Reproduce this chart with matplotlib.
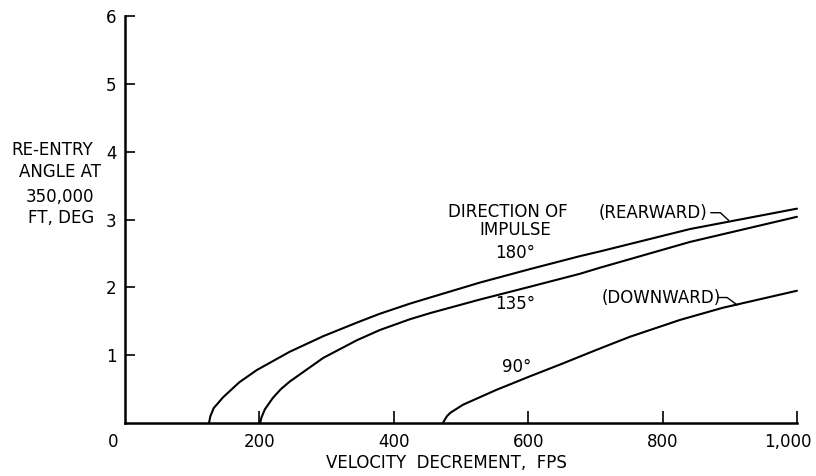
import matplotlib
matplotlib.use("Agg")
import matplotlib.pyplot as plt
import matplotlib.transforms as mtransforms

plt.rcParams["font.family"] = ["DejaVu Sans"]
plt.rcParams["font.size"] = 12

# Re-entry angle (deg) vs velocity decrement (fps), one curve per impulse direction
V_180 = [125, 127, 132, 146, 170, 196, 245, 295, 345, 379, 424, 454, 528, 603, 677, 707, 841, 1000]
A_180 = [0.0, 0.10, 0.22, 0.38, 0.60, 0.78, 1.05, 1.28, 1.48, 1.61, 1.76, 1.85, 2.07, 2.27, 2.46, 2.53, 2.86, 3.16]

V_135 = [201, 203, 208, 220, 232, 245, 295, 345, 379, 424, 454, 528, 603, 677, 707, 841, 1000]
A_135 = [0.0, 0.08, 0.20, 0.37, 0.50, 0.61, 0.96, 1.22, 1.37, 1.53, 1.62, 1.82, 2.01, 2.20, 2.29, 2.67, 3.04]

V_90 = [473, 476, 479, 484, 503, 553, 603, 652, 702, 751, 826, 890, 1000]
A_90 = [0.0, 0.05, 0.10, 0.15, 0.27, 0.49, 0.69, 0.88, 1.08, 1.27, 1.52, 1.70, 1.95]

XTICKS = [0, 200, 400, 600, 800, 1000]
XTICK_LABELS = ["0", "200", "400", "600", "800", "1,000"]
YTICKS = [1, 2, 3, 4, 5, 6]
YTICK_LABELS = ["1", "2", "3", "4", "5", "6"]

fig = plt.figure(figsize=(8.16, 4.76), dpi=100)
ax = fig.add_axes([0.1532, 0.1113, 0.8235, 0.8551])

for v, a in ((V_180, A_180), (V_135, A_135), (V_90, A_90)):
    ax.plot(v, a, color="black", linewidth=1.5, solid_joinstyle="round",
            solid_capstyle="round", clip_on=False)

ax.set_xlim(0, 1000)
ax.set_ylim(0, 6)
ax.spines[["top", "right"]].set_visible(False)
ax.spines[["left", "bottom"]].set_linewidth(1.8)

ax.set_xticks(XTICKS, XTICK_LABELS)
ax.set_yticks(YTICKS, YTICK_LABELS)
ax.tick_params(axis="x", direction="in", length=9, width=1.2, pad=7)
ax.tick_params(axis="y", direction="in", length=7, width=1.2, pad=6)
ax.xaxis.get_major_ticks()[0].tick1line.set_visible(False)

# nudge the end labels like the hand lettering
xlabels = ax.get_xticklabels()
xlabels[0].set_transform(xlabels[0].get_transform()
                         + mtransforms.ScaledTranslation(-0.12, 0, fig.dpi_scale_trans))
xlabels[-1].set_transform(xlabels[-1].get_transform()
                          + mtransforms.ScaledTranslation(-0.09, 0, fig.dpi_scale_trans))

ax.text(479, -0.59, "VELOCITY  DECREMENT,  FPS", ha="center", va="center",
        clip_on=False)

for text, x, y in (("RE-ENTRY", -109, 4.03), ("ANGLE AT", -97, 3.70),
                   ("350,000", -97, 3.33), ("FT, DEG", -95, 3.02)):
    ax.text(x, y, text, ha="center", va="center", clip_on=False)

ax.text(570, 3.11, "DIRECTION OF", ha="center", va="center")
ax.text(580, 2.85, "IMPULSE", ha="center", va="center")
ax.text(580, 2.51, "180°", ha="center", va="center")
ax.text(580, 1.76, "135°", ha="center", va="center")
ax.text(583, 0.83, "90°", ha="center", va="center")

ax.text(705, 3.10, "(REARWARD)", ha="left", va="center")
ax.plot([872, 886, 898], [3.10, 3.10, 2.99], color="black", linewidth=1.0,
        solid_joinstyle="round")
ax.text(710, 1.84, "(DOWNWARD)", ha="left", va="center")
ax.plot([883, 896, 911], [1.85, 1.85, 1.74], color="black", linewidth=1.0,
        solid_joinstyle="round")

fig.savefig("out.png", dpi=100, facecolor="white")
